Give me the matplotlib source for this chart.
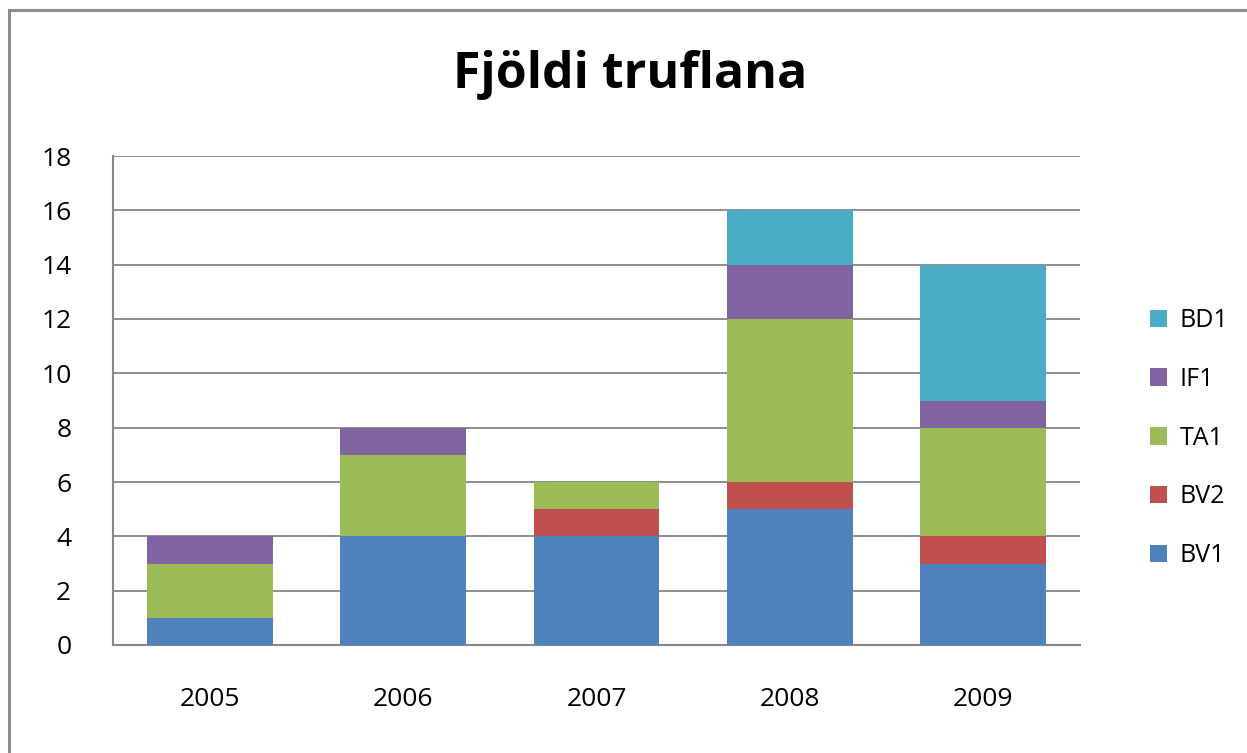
import matplotlib
matplotlib.use("Agg")
import matplotlib.pyplot as plt
from matplotlib.patches import Rectangle
import numpy as np

years = ["2005", "2006", "2007", "2008", "2009"]
series_names = ["BV1", "BV2", "TA1", "IF1", "BD1"]
BV1 = [1, 4, 4, 5, 3]
BV2 = [0, 0, 1, 1, 1]
TA1 = [2, 3, 1, 6, 4]
IF1 = [1, 1, 0, 2, 1]
BD1 = [0, 0, 0, 2, 5]
colors = ["#4F81BD", "#C0504D", "#9BBB59", "#8064A2", "#4BACC6"]

plt.rcParams['font.family'] = ['Open Sans', 'DejaVu Sans']

W, H = 1247, 753
fig = plt.figure(figsize=(W/100, H/100), dpi=100)
fig.patches.append(Rectangle((9/W, -0.2), 1.2, 1.2 - 10/H, transform=fig.transFigure,
                             fill=False, edgecolor="#8c8c8c", linewidth=2.2, zorder=0))

left, right, top, bottom = 113, 1080, 156, 645
ax = fig.add_axes([left/W, 1 - bottom/H, (right-left)/W, (bottom-top)/H])

x = np.arange(len(years))
base = np.zeros(len(years))
data = [BV1, BV2, TA1, IF1, BD1]
handles = []
for name, vals, c in zip(series_names, data, colors):
    b = ax.bar(x, vals, bottom=base, width=0.65, color=c, label=name, zorder=3)
    handles.append(b)
    base += np.array(vals)

ax.set_xlim(-0.5, len(years) - 0.5)
ax.set_ylim(0, 18)
ax.set_yticks(range(0, 19, 2))
ax.yaxis.grid(True, color="#868686", linewidth=1.3, zorder=0)
ax.set_axisbelow(True)
for s in ["top", "right"]:
    ax.spines[s].set_visible(False)
for s in ["left", "bottom"]:
    ax.spines[s].set_color("#868686")
    ax.spines[s].set_linewidth(1.5)
ax.set_xticks(x)
ax.set_xticklabels(years)
ax.tick_params(axis="x", length=0, pad=30, labelsize=19)
ax.tick_params(axis="y", length=0, pad=30, labelsize=19)

fig.text(630/W, 1 - 75/H, "Fjöldi truflana", ha="center", va="center",
         fontsize=36, fontweight="bold")

leg = fig.legend(handles[::-1], series_names[::-1], loc="center left",
                 bbox_to_anchor=(1127/W, 1 - 438/H), frameon=False,
                 fontsize=18, handlelength=0.7, handleheight=0.7,
                 labelspacing=1.35, handletextpad=0.5)

fig.savefig("out.png", dpi=100)
